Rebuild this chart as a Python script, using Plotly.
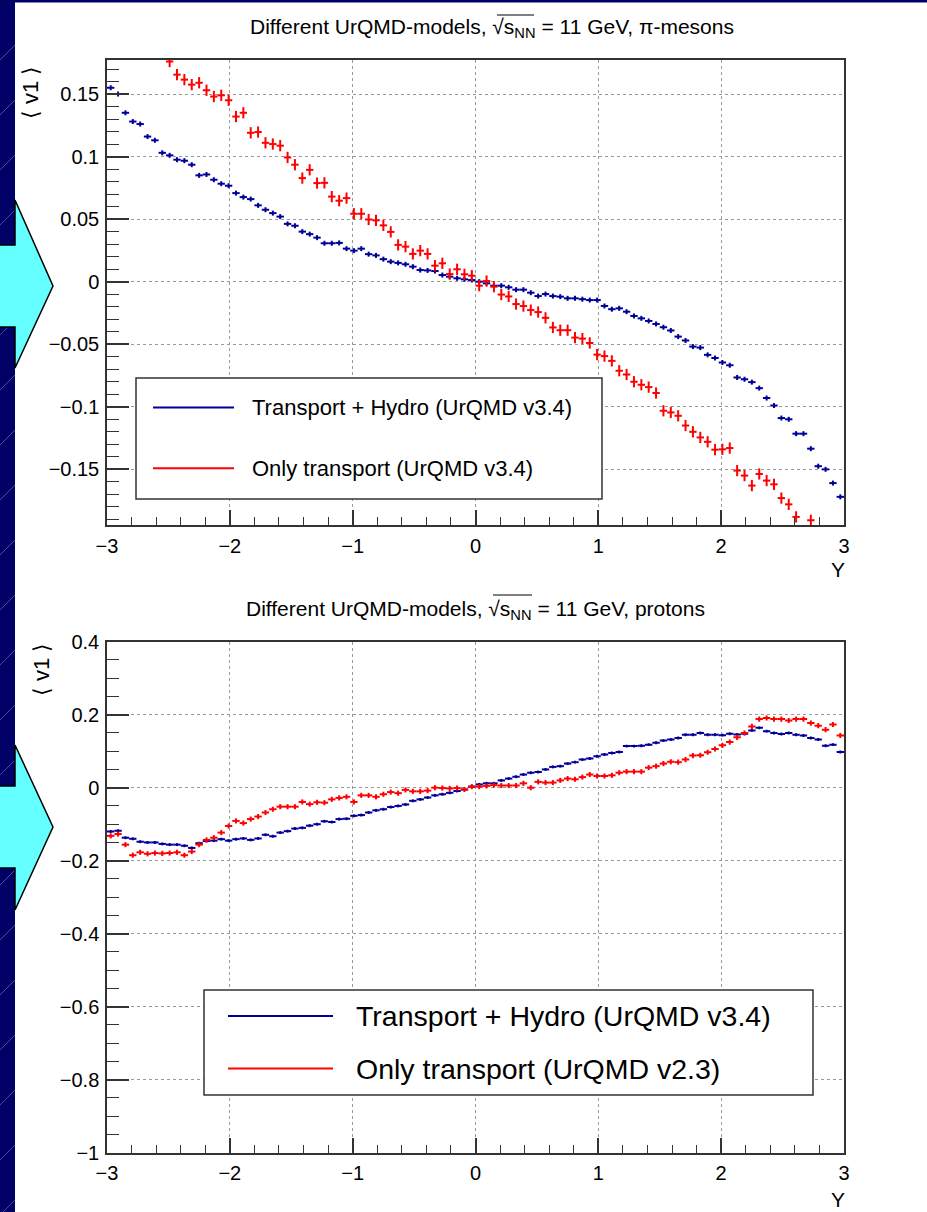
import numpy as np
import plotly.graph_objects as go

W, H = 927, 1212

# ---------------- data ----------------
Y_LO, Y_HI, NBINS = -3.0, 3.0, 100
edges = np.linspace(Y_LO, Y_HI, NBINS + 1)
rapidity = ((edges[:-1] + edges[1:]) / 2).tolist()
half_bin = (Y_HI - Y_LO) / NBINS / 2

pion_hydro = [0.155, 0.150, 0.135, 0.128, 0.126, 0.116, 0.113, 0.103, 0.101, 0.0975,
              0.0967, 0.0935, 0.085, 0.0857, 0.0815, 0.0783, 0.0767, 0.0708, 0.0676, 0.066,
              0.061, 0.0575, 0.0548, 0.052, 0.0462, 0.0447, 0.040, 0.038, 0.0352, 0.0307,
              0.0307, 0.031, 0.0264, 0.0248, 0.0264, 0.022, 0.021, 0.018, 0.016, 0.015,
              0.0139, 0.012, 0.0093, 0.009, 0.0085, 0.0053, 0.004, 0.0027, 0.0019, 0.0013,
              0.0, -0.0013, -0.0032, -0.0032, -0.0045, -0.0064, -0.0064, -0.0088, -0.0115, -0.0099,
              -0.0115, -0.012, -0.0133, -0.0133, -0.014, -0.0147, -0.0147, -0.0194, -0.022, -0.0213,
              -0.024, -0.0274, -0.0293, -0.0314, -0.0338, -0.0364, -0.039, -0.0439, -0.047, -0.0519,
              -0.0527, -0.0585, -0.061, -0.0646, -0.0668, -0.0766, -0.078, -0.0803, -0.0851, -0.093,
              -0.099, -0.109, -0.110, -0.1215, -0.1215, -0.1335, -0.1475, -0.150, -0.161, -0.172]

pion_transport = [None, None, None, None, None, None, None, None, 0.176, 0.1655,
                  0.1615, 0.1575, 0.159, 0.153, 0.148, 0.149, 0.145, 0.132, 0.135, 0.119,
                  0.1196, 0.111, 0.110, 0.1087, 0.0993, 0.0935, 0.0828, 0.0894, 0.0788, 0.079,
                  0.068, 0.0647, 0.0668, 0.0543, 0.0543, 0.0497, 0.049, 0.045, 0.0398, 0.0294,
                  0.028, 0.0222, 0.0248, 0.0222, 0.0128, 0.0147, 0.0061, 0.0099, 0.0059, 0.0048,
                  -0.0032, 0.0005, -0.004, -0.0103, -0.0118, -0.0179, -0.0195, -0.0227, -0.0243, -0.0289,
                  -0.0366, -0.0388, -0.0388, -0.0447, -0.0455, -0.049, -0.0583, -0.0595, -0.0633, -0.0712,
                  -0.0742, -0.080, -0.0824, -0.0843, -0.089, -0.1032, -0.1045, -0.1072, -0.115, -0.120,
                  -0.1245, -0.128, -0.1343, -0.134, -0.133, -0.151, -0.155, -0.163, -0.1537, -0.159,
                  -0.162, -0.173, -0.178, -0.188, None, -0.1907, None, None, None, None]

proton_hydro = [-0.12, -0.118, -0.137, -0.14, -0.148, -0.15, -0.15, -0.154, -0.156, -0.156,
                -0.159, -0.165, -0.152, -0.146, -0.145, -0.141, -0.145, -0.141, -0.139, -0.143,
                -0.139, -0.129, -0.133, -0.123, -0.119, -0.112, -0.11, -0.104, -0.1, -0.092,
                -0.094, -0.086, -0.085, -0.077, -0.075, -0.068, -0.062, -0.059, -0.053, -0.05,
                -0.046, -0.036, -0.032, -0.027, -0.021, -0.018, -0.014, -0.009, -0.005, 0.003,
                0.009, 0.012, 0.012, 0.02, 0.025, 0.03, 0.036, 0.041, 0.043, 0.05,
                0.057, 0.059, 0.066, 0.07, 0.077, 0.08, 0.086, 0.091, 0.095, 0.098,
                0.114, 0.114, 0.115, 0.118, 0.123, 0.129, 0.132, 0.136, 0.145, 0.145,
                0.15, 0.145, 0.145, 0.144, 0.148, 0.146, 0.148, 0.157, 0.164, 0.155,
                0.15, 0.147, 0.15, 0.145, 0.143, 0.136, 0.132, 0.115, 0.118, 0.098]

proton_transport = [-0.132, -0.127, -0.156, -0.185, -0.177, -0.181, -0.179, -0.18, -0.179, -0.177,
                    -0.185, -0.175, -0.156, -0.143, -0.137, -0.123, -0.105, -0.091, -0.097, -0.086,
                    -0.079, -0.068, -0.059, -0.052, -0.052, -0.052, -0.039, -0.045, -0.040, -0.041,
                    -0.032, -0.028, -0.025, -0.039, -0.021, -0.021, -0.025, -0.018, -0.012, -0.015,
                    -0.006, -0.01, -0.01, -0.008, 0.0, -0.001, -0.002, -0.001, -0.005, 0.003,
                    0.003, 0.005, 0.007, 0.006, 0.006, 0.006, 0.012, 0.0, 0.016, 0.014,
                    0.014, 0.02, 0.025, 0.023, 0.029, 0.036, 0.032, 0.032, 0.034, 0.041,
                    0.044, 0.044, 0.044, 0.055, 0.059, 0.066, 0.071, 0.07, 0.077, 0.088,
                    0.089, 0.097, 0.106, 0.116, 0.125, 0.138, 0.15, 0.168, 0.188, 0.191,
                    0.188, 0.188, 0.184, 0.188, 0.188, 0.177, 0.17, 0.159, 0.173, 0.143]

pion_hydro_err = 0.002
pion_transport_err = 0.0045
proton_hydro_err = 0.004
proton_transport_err = 0.007

x_tickvals = [-3, -2, -1, 0, 1, 2, 3]
x_ticktext = ["\u22123", "\u22122", "\u22121", "0", "1", "2", "3"]
pion_tickvals = [-0.15, -0.1, -0.05, 0, 0.05, 0.1, 0.15]
pion_ticktext = ["\u22120.15", "\u22120.1", "\u22120.05", "0", "0.05", "0.1", "0.15"]
proton_tickvals = [-1, -0.8, -0.6, -0.4, -0.2, 0, 0.2, 0.4]
proton_ticktext = ["\u22121", "\u22120.8", "\u22120.6", "\u22120.4", "\u22120.2", "0", "0.2", "0.4"]

label_hydro = "Transport + Hydro (UrQMD v3.4)"
label_pion_transport = "Only transport (UrQMD v3.4)"
label_proton_transport = "Only transport (UrQMD v2.3)"
title_pion = "Different UrQMD-models, \u221as<sub>NN</sub> = 11 GeV, \u03c0-mesons"
title_proton = "Different UrQMD-models, \u221as<sub>NN</sub> = 11 GeV, protons"

# ---------------- styling ----------------
FONT = "Liberation Sans, Arial, sans-serif"
BLUE = "#000099"
RED = "#ff0000"
NAVY = "#000066"
CYAN = "#66ffff"


def px(x):
    return x / W


def py(y):
    return 1 - y / H


def hist_trace(vals, err, color, xa, ya):
    return go.Scatter(
        x=rapidity, y=vals, mode="markers", xaxis=xa, yaxis=ya,
        marker=dict(size=1, color=color),
        error_x=dict(type="constant", value=half_bin, width=0, thickness=2, color=color),
        error_y=dict(type="constant", value=err, width=0, thickness=2, color=color),
        showlegend=False, hoverinfo="skip")


fig = go.Figure()
fig.add_trace(hist_trace(pion_hydro, pion_hydro_err, BLUE, "x", "y"))
fig.add_trace(hist_trace(pion_transport, pion_transport_err, RED, "x", "y"))
fig.add_trace(hist_trace(proton_hydro, proton_hydro_err, BLUE, "x2", "y2"))
fig.add_trace(hist_trace(proton_transport, proton_transport_err, RED, "x2", "y2"))

XDOM = [px(107), px(844)]


def xaxis_cfg(anchor):
    return dict(
        domain=XDOM, range=[-3, 3], anchor=anchor, automargin=False,
        tickmode="array", tickvals=x_tickvals, ticktext=x_ticktext,
        ticks="inside", ticklen=15, tickwidth=1.5, tickcolor="#333",
        minor=dict(tick0=-3, dtick=0.2, ticks="inside", ticklen=8, tickwidth=1.2,
                   tickcolor="#333", showgrid=False),
        showgrid=True, gridcolor="#999", griddash="dot", gridwidth=1,
        showline=True, linecolor="#333", linewidth=1.5, mirror=True, zeroline=False,
        tickfont=dict(family=FONT, size=20, color="black"), ticklabelstandoff=2)


def yaxis_cfg(anchor, dom, rng, tv, tt, minor_dt):
    return dict(
        domain=dom, range=rng, anchor=anchor, automargin=False,
        tickmode="array", tickvals=tv, ticktext=tt,
        ticks="inside", ticklen=22, tickwidth=1.5, tickcolor="#333",
        minor=dict(tick0=0, dtick=minor_dt, ticks="inside", ticklen=12, tickwidth=1.2,
                   tickcolor="#333", showgrid=False),
        showgrid=True, gridcolor="#999", griddash="dot", gridwidth=1,
        showline=True, linecolor="#333", linewidth=1.5, mirror=True, zeroline=False,
        tickfont=dict(family=FONT, size=20, color="black"), ticklabelstandoff=2)


shapes = []
# white slide area
shapes.append(dict(type="rect", xref="paper", yref="paper", x0=px(15), x1=1, y0=0, y1=py(2.5),
                   fillcolor="white", line=dict(width=0), layer="below"))
# faint diagonal lines on the navy border
for y0 in [60, 115, 170, 225, 280, 335, 390, 445, 500, 555, 610, 665, 720, 775, 830, 885, 940, 995, 1050, 1105, 1160, 1215]:
    shapes.append(dict(type="line", xref="paper", yref="paper", x0=px(0), y0=py(y0), x1=px(15), y1=py(y0 - 15),
                       line=dict(color="#4a4a9a", width=1), layer="below"))


def arrow_path(head_top, tip_y, head_bot, body_top, body_bot):
    pts = [(0, body_top), (15, body_top), (15, head_top), (53, tip_y), (15, head_bot), (15, body_bot), (0, body_bot)]
    return "M " + " L ".join(f"{px(a):.5f},{py(b):.5f}" for a, b in pts)


shapes.append(dict(type="path", xref="paper", yref="paper", path=arrow_path(200, 286, 368, 245, 327),
                   fillcolor=CYAN, line=dict(color="black", width=1.5), layer="above"))
shapes.append(dict(type="path", xref="paper", yref="paper", path=arrow_path(745, 827, 910, 786, 868),
                   fillcolor=CYAN, line=dict(color="black", width=1.5), layer="above"))


def legend_box(x0, y0, x1, y1, lx0, lx1, ly1, ly2, lw):
    shapes.append(dict(type="rect", xref="paper", yref="paper", x0=px(x0), x1=px(x1), y0=py(y1), y1=py(y0),
                       fillcolor="white", line=dict(color="#333", width=1.5), layer="above"))
    shapes.append(dict(type="line", xref="paper", yref="paper", x0=px(lx0), x1=px(lx1), y0=py(ly1), y1=py(ly1),
                       line=dict(color=BLUE, width=lw), layer="above"))
    shapes.append(dict(type="line", xref="paper", yref="paper", x0=px(lx0), x1=px(lx1), y0=py(ly2), y1=py(ly2),
                       line=dict(color=RED, width=lw), layer="above"))


legend_box(136, 378, 602, 499, 153, 234, 407.5, 468.3, 2)
legend_box(204, 990, 813, 1095, 228, 333, 1016, 1068.5, 2)

# sqrt overlines
shapes.append(dict(type="line", xref="paper", yref="paper", x0=px(497), x1=px(534), y0=py(15), y1=py(15),
                   line=dict(color="black", width=1)))
shapes.append(dict(type="line", xref="paper", yref="paper", x0=px(493), x1=px(532), y0=py(595), y1=py(595),
                   line=dict(color="black", width=1)))

ann = []


def text(x, y, s, size, xanchor="center", angle=0):
    ann.append(dict(x=px(x), y=py(y), xref="paper", yref="paper", text=s, showarrow=False,
                    xanchor=xanchor, yanchor="middle", textangle=angle,
                    font=dict(family=FONT, size=size, color="black")))


text(491.5, 28, title_pion, 21)
text(475.5, 610, title_proton, 21)
text(31, 93, "\u27e8 v1 \u27e9", 22, angle=-90)
text(41, 670, "\u27e8 v1 \u27e9", 22, angle=-90)
text(838, 569, "Y", 21)
text(838, 1199, "Y", 21)
text(250, 407.5, label_hydro, 22, xanchor="left")
text(250, 468.3, label_pion_transport, 22, xanchor="left")
text(354, 1016, label_hydro, 28.5, xanchor="left")
text(354, 1068.5, label_proton_transport, 28.5, xanchor="left")

fig.update_layout(
    width=W, height=H, margin=dict(l=0, r=0, t=0, b=0, autoexpand=False),
    paper_bgcolor=NAVY, plot_bgcolor="white", showlegend=False,
    xaxis=xaxis_cfg("y"),
    yaxis=yaxis_cfg("x", [py(525), py(60)], [-0.1945, 0.1772], pion_tickvals, pion_ticktext, 0.01),
    xaxis2=xaxis_cfg("y2"),
    yaxis2=yaxis_cfg("x2", [py(1152.7), py(641.7)], [-1, 0.4], proton_tickvals, proton_ticktext, 0.05),
    shapes=shapes, annotations=ann,
)

fig.write_html("out.html", config={"displayModeBar": False},
               post_script="document.body.style.margin='0';document.body.style.overflow='hidden';"
                           "document.documentElement.style.overflow='hidden';")
